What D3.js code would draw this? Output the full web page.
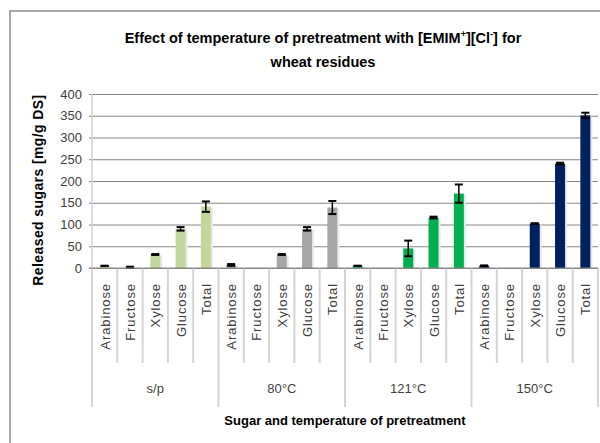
<!DOCTYPE html>
<html lang="en">
<head>
<meta charset="UTF-8">
<title>Effect of temperature of pretreatment with [EMIM+][Cl-]</title>
<script src="https://d3js.org/d3.v7.min.js"></script>
<style>
    body, html { margin: 0; padding: 0; background: #fff; }
    svg { display: block; font-family: 'Liberation Sans', Arial, sans-serif; }
</style>
</head>
<body>
<svg id="chart"></svg>
<script>
    // data
    const sugars = ["Arabinose", "Fructose", "Xylose", "Glucose", "Total"];
    const temps = ["s/p", "80°C", "121°C", "150°C"];
    const values = [
        [5, 2, 31, 90, 141],
        [7, 0, 31, 90, 139],
        [5, 0, 45, 116, 171],
        [5, 0, 102, 240, 351]
    ];
    const errors = [
        [0, 1, 1, 4, 12],
        [2, 0, 1, 4, 15],
        [0, 0, 18, 2, 21],
        [1, 0, 1, 2, 6]
    ];
    const colors = ["#c3d69b", "#a6a6a6", "#00b050", "#002060"];
    const yTicks = [0, 50, 100, 150, 200, 250, 300, 350, 400];

    const W = 600, H = 443;
    const plotL = 92, plotR = 598, plotT = 94, base = 268;
    const catBottom = 363, groupBottom = 407;

    const svg = d3.select("#chart").attr("width", W).attr("height", H);

    // outer frame (only top and left show)
    svg.append("path")
        .attr("d", `M10,${H} L10,11 L${W},11`)
        .attr("fill", "none").attr("stroke", "#8c8c8c").attr("stroke-width", 1.5);

    const rows = [];
    temps.forEach((t, i) => sugars.forEach((s, j) => rows.push({
        key: t + "|" + s, temp: t, sugar: s, g: i, v: values[i][j], e: errors[i][j]
    })));

    const x = d3.scaleBand().domain(rows.map(d => d.key)).range([plotL, plotR]);
    const y = d3.scaleLinear().domain([0, 400]).range([base, plotT]);

    // gridlines + y labels
    const yAxis = svg.append("g")
        .attr("transform", `translate(${plotL},0)`)
        .call(d3.axisLeft(y).tickValues(yTicks).tickSize(-(plotR - plotL)).tickPadding(10));
    yAxis.select(".domain").remove();
    yAxis.selectAll(".tick line").attr("stroke", "#868686").attr("x1", -3);
    yAxis.selectAll(".tick text").attr("font-size", 13).attr("fill", "#404040")
        .attr("font-family", "'Liberation Sans', Arial, sans-serif");

    // y axis line
    svg.append("line").attr("x1", plotL).attr("x2", plotL).attr("y1", plotT).attr("y2", base)
        .attr("stroke", "#d0d0d0").attr("stroke-width", 1.5);

    // category dividers
    const bounds = rows.map((d, i) => ({ x: x(d.key), group: i % 5 === 0 }));
    bounds.push({ x: plotR, group: true });
    svg.selectAll(".div").data(bounds).enter().append("line")
        .attr("x1", d => d.x).attr("x2", d => d.x)
        .attr("y1", base).attr("y2", d => d.group ? groupBottom : catBottom)
        .attr("stroke", "#d4d4d4").attr("stroke-width", 2);

    // bars with faint shadow
    const bw = 10;
    svg.selectAll(".shadow").data(rows.filter(d => d.v > 0)).enter().append("rect")
        .attr("x", d => x(d.key) + x.bandwidth() / 2 - bw / 2 + 2)
        .attr("y", d => y(d.v) + 1)
        .attr("width", bw).attr("height", d => base - y(d.v) - 1)
        .attr("fill", "#e8e8e8");
    svg.selectAll(".bar").data(rows.filter(d => d.v > 0)).enter().append("rect")
        .attr("x", d => x(d.key) + x.bandwidth() / 2 - bw / 2)
        .attr("y", d => y(d.v))
        .attr("width", bw).attr("height", d => base - y(d.v))
        .attr("fill", d => colors[d.g]);

    // error bars
    const eb = svg.selectAll(".err").data(rows.filter(d => d.v > 0)).enter().append("g")
        .attr("transform", d => `translate(${x(d.key) + x.bandwidth() / 2},0)`);
    eb.append("line").attr("y1", d => y(d.v + d.e)).attr("y2", d => y(d.v - d.e))
        .attr("stroke", "#000").attr("stroke-width", 1.5);
    eb.append("line").attr("x1", -4).attr("x2", 4)
        .attr("y1", d => y(d.v + d.e)).attr("y2", d => y(d.v + d.e))
        .attr("stroke", "#000").attr("stroke-width", 2);
    eb.append("line").attr("x1", -4).attr("x2", 4)
        .attr("y1", d => y(d.v - d.e)).attr("y2", d => y(d.v - d.e))
        .attr("stroke", "#000").attr("stroke-width", 2);

    // baseline
    svg.append("line").attr("x1", plotL - 3).attr("x2", plotR).attr("y1", base).attr("y2", base)
        .attr("stroke", "#868686");

    // category labels
    svg.selectAll(".cat").data(rows).enter().append("text")
        .attr("transform", d => `translate(${x(d.key) + x.bandwidth() / 2 + 5},283) rotate(-90)`)
        .attr("text-anchor", "end")
        .attr("font-size", 13).attr("fill", "#404040")
        .attr("letter-spacing", 0.9)
        .text(d => d.sugar);

    // group labels
    svg.selectAll(".grp").data(temps).enter().append("text")
        .attr("x", d => (x(d + "|" + sugars[0]) + x(d + "|" + sugars[4]) + x.bandwidth()) / 2)
        .attr("y", 393)
        .attr("text-anchor", "middle").attr("font-size", 13).attr("fill", "#404040")
        .text(d => d);

    // titles
    const title = svg.append("text").attr("text-anchor", "middle")
        .attr("font-weight", "bold").attr("font-size", 14.5).attr("fill", "#000");
    const t1 = title.append("tspan").attr("x", 323).attr("y", 43);
    t1.append("tspan").text("Effect of temperature of pretreatment with [EMIM");
    t1.append("tspan").attr("font-size", 9).attr("dy", -6).text("+");
    t1.append("tspan").attr("dy", 6).text("][Cl");
    t1.append("tspan").attr("font-size", 9).attr("dy", -6).text("-");
    t1.append("tspan").attr("dy", 6).text("]  for");
    title.append("tspan").attr("x", 323).attr("y", 67).text("wheat residues");

    svg.append("text")
        .attr("transform", "translate(43,190) rotate(-90)")
        .attr("text-anchor", "middle").attr("font-weight", "bold").attr("font-size", 14)
        .attr("letter-spacing", 0.4)
        .text("Released sugars [mg/g DS]");

    svg.append("text")
        .attr("x", 345).attr("y", 425)
        .attr("text-anchor", "middle").attr("font-weight", "bold").attr("font-size", 13)
        .text("Sugar and temperature of pretreatment");
</script>
</body>
</html>
